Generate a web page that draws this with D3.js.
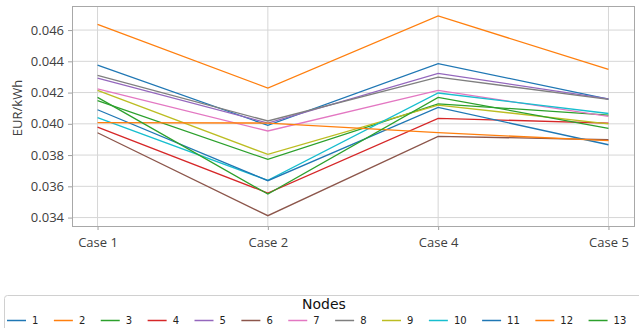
<!DOCTYPE html>
<html>
<head>
<meta charset="utf-8">
<script src="https://cdn.jsdelivr.net/npm/d3@7"></script>
<style>
  html, body { margin: 0; padding: 0; background: #fff; }
  svg { display: block; }
  .tick text { font-family: "Open Sans", sans-serif; }
</style>
</head>
<body>
<svg id="chart" width="639" height="328"></svg>
<script>
// Cases on the x axis
const cases = ["Case 1", "Case 2", "Case 4", "Case 5"];

// Price per node and case (EUR/kWh)
const node1  = [0.04376, 0.03990, 0.04385, 0.04158];
const node2  = [0.04636, 0.04229, 0.04690, 0.04348];
const node3  = [0.04148, 0.03772, 0.04128, 0.04056];
const node4  = [0.03979, 0.03557, 0.04035, 0.04005];
const node5  = [0.04293, 0.04005, 0.04323, 0.04160];
const node6  = [0.03943, 0.03412, 0.03920, 0.03898];
const node7  = [0.04224, 0.03954, 0.04214, 0.04047];
const node8  = [0.04310, 0.04018, 0.04299, 0.04156];
const node9  = [0.04214, 0.03804, 0.04120, 0.04000];
const node10 = [0.04039, 0.03638, 0.04197, 0.04066];
const node11 = [0.04090, 0.03636, 0.04105, 0.03866];
const node12 = [0.04007, 0.04005, 0.03943, 0.03892];
const node13 = [0.04169, 0.03550, 0.04169, 0.03971];

const nodeNames = ["1","2","3","4","5","6","7","8","9","10","11","12","13"];
const nodeValues = [node1, node2, node3, node4, node5, node6, node7,
                    node8, node9, node10, node11, node12, node13];

const yTicks = [0.034, 0.036, 0.038, 0.040, 0.042, 0.044, 0.046];

const palette = ["#1f77b4", "#ff7f0e", "#2ca02c", "#d62728", "#9467bd",
                 "#8c564b", "#e377c2", "#7f7f7f", "#bcbd22", "#17becf",
                 "#1f77b4", "#ff7f0e", "#2ca02c"];

const series = nodeNames.map((name, i) => ({ name, values: nodeValues[i], color: palette[i] }));

const svg = d3.select("#chart");
const plot = { left: 72, right: 634, top: 6, bottom: 226 };

const x = d3.scalePoint().domain(cases).range([plot.left, plot.right]).padding(0.15);
const y = d3.scaleLinear().domain([0.03346, 0.04754]).range([plot.bottom, plot.top]);

// Grid
const grid = svg.append("g");
grid.selectAll("line.gy").data(yTicks).join("line")
  .attr("x1", plot.left).attr("x2", plot.right)
  .attr("y1", d => y(d)).attr("y2", d => y(d))
  .attr("stroke", "#d6d6d6").attr("stroke-width", 1);
grid.selectAll("line.gx").data(cases).join("line")
  .attr("x1", d => x(d)).attr("x2", d => x(d))
  .attr("y1", plot.top).attr("y2", plot.bottom)
  .attr("stroke", "#d6d6d6").attr("stroke-width", 1);

// Axes
const yAxis = svg.append("g")
  .attr("transform", `translate(${plot.left},0)`)
  .call(d3.axisLeft(y).tickValues(yTicks).tickFormat(d3.format(".3f")).tickSize(4).tickPadding(4));
const xAxis = svg.append("g")
  .attr("transform", `translate(0,${plot.bottom})`)
  .call(d3.axisBottom(x).tickSize(4).tickPadding(8));
[yAxis, xAxis].forEach(a => {
  a.select(".domain").remove();
  a.selectAll(".tick line").attr("stroke", "#a0a0a0");
  a.selectAll(".tick text").attr("fill", "#404040").attr("font-size", 13);
});

// Frame
svg.append("rect")
  .attr("x", plot.left + 0.5).attr("y", plot.top + 0.5)
  .attr("width", plot.right - plot.left).attr("height", plot.bottom - plot.top)
  .attr("fill", "none").attr("stroke", "#a8a8a8").attr("stroke-width", 1);

// Y label
svg.append("text")
  .attr("transform", `translate(22,${(plot.top + plot.bottom) / 2 - 8}) rotate(-90)`)
  .attr("text-anchor", "middle")
  .attr("font-family", "Open Sans, sans-serif")
  .attr("font-size", 13).attr("fill", "#404040")
  .text("EUR/kWh");

// Lines
const line = d3.line().x((d, i) => x(cases[i])).y(d => y(d));
svg.append("g").selectAll("path").data(series).join("path")
  .attr("d", d => line(d.values))
  .attr("fill", "none")
  .attr("stroke", d => d.color)
  .attr("stroke-width", 1.3);

// Legend
const legend = svg.append("g");
legend.append("rect")
  .attr("x", 4.5).attr("y", 295.5).attr("width", 660).attr("height", 60)
  .attr("rx", 3).attr("fill", "#fff").attr("stroke", "#d0d0d0");
legend.append("text")
  .attr("x", 324).attr("y", 309)
  .attr("text-anchor", "middle")
  .attr("font-family", "DejaVu Sans, sans-serif")
  .attr("font-size", 14).attr("fill", "#111")
  .text("Nodes");

let lx = 7;
series.forEach(s => {
  const g = legend.append("g");
  g.append("line")
    .attr("x1", lx).attr("x2", lx + 19)
    .attr("y1", 320.5).attr("y2", 320.5)
    .attr("stroke", s.color).attr("stroke-width", 1.5);
  const t = g.append("text")
    .attr("x", lx + 25).attr("y", 324)
    .attr("font-family", "DejaVu Sans, sans-serif")
    .attr("font-size", 10).attr("fill", "#222")
    .text(s.name);
  lx += 25 + t.node().getComputedTextLength() + 15.5;
});
</script>
</body>
</html>
